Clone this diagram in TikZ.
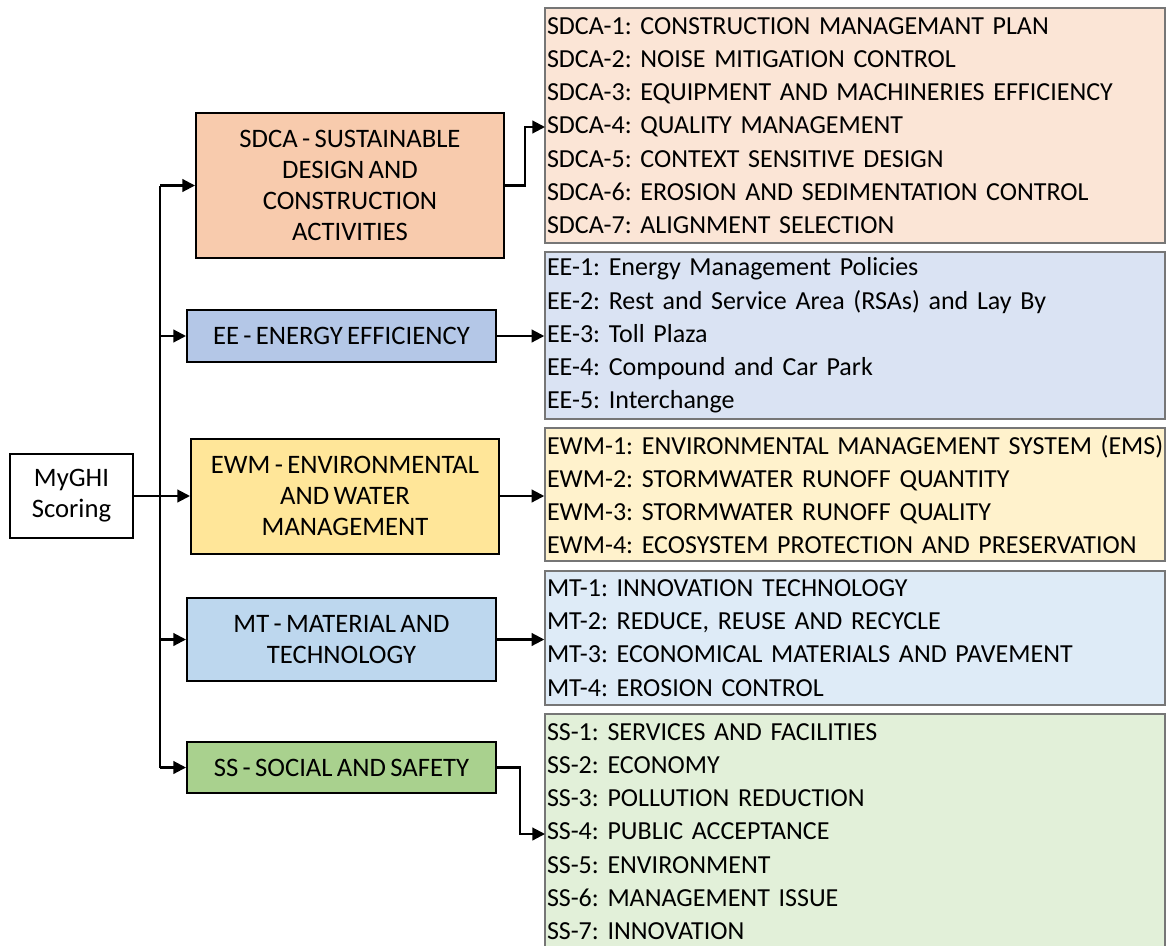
\documentclass[tikz,border=0pt]{standalone}
\usepackage{fontspec}
\setmainfont{Carlito}[WordSpace=0.72]
\usetikzlibrary{arrows.meta}
\frenchspacing
\definecolor{sdcaM}{HTML}{F8CBAD}
\definecolor{sdcaL}{HTML}{FBE5D6}
\definecolor{eeM}{HTML}{B4C7E7}
\definecolor{eeL}{HTML}{DAE3F3}
\definecolor{ewmM}{HTML}{FFE699}
\definecolor{ewmL}{HTML}{FFF2CC}
\definecolor{mtM}{HTML}{BDD7EE}
\definecolor{mtL}{HTML}{DEEBF7}
\definecolor{ssM}{HTML}{A9D18E}
\definecolor{ssL}{HTML}{E2F0D9}
\definecolor{listborder}{HTML}{767676}
\tikzset{
  mainbox/.style={draw=black, line width=1.5pt, align=center, inner sep=0pt,
    font=\fontsize{20}{23.25}\selectfont},
  listbox/.style={draw=listborder, line width=1.1pt, align=left, inner xsep=1.5pt, inner ysep=0pt,
    text width=462pt, minimum width=465pt,
    font=\fontsize{19.5}{24.9}\selectfont},
  conn/.style={line width=1.6pt, -{Triangle[length=9.5pt,width=9.5pt]}},
  plain/.style={line width=1.6pt}
}
\begin{document}
\begin{tikzpicture}[x=0.75pt,y=-0.75pt]
\useasboundingbox (0,0) rectangle (1171,946);
\clip (0,0) rectangle (1171,946);
% root
\node[mainbox, fill=white, minimum width=92.25pt, minimum height=63pt] (root) at (71.5,496) {MyGHI\\Scoring};
% categories
\node[mainbox, fill=sdcaM, minimum width=231pt, minimum height=108.75pt] (sdca) at (350,185.5)
  {SDCA - SUSTAINABLE\\DESIGN AND\\CONSTRUCTION\\ACTIVITIES};
\node[mainbox, fill=eeM, minimum width=231.75pt, minimum height=39pt] (ee) at (341.5,336)
  {EE - ENERGY EFFICIENCY};
\node[mainbox, fill=ewmM, minimum width=231pt, minimum height=86.25pt] (ewm) at (345,496)
  {EWM - ENVIRONMENTAL\\AND WATER\\MANAGEMENT};
\node[mainbox, fill=mtM, minimum width=231.75pt, minimum height=62.25pt] (mt) at (341.5,639.5)
  {MT - MATERIAL AND\\TECHNOLOGY};
\node[mainbox, fill=ssM, minimum width=231.75pt, minimum height=38.25pt] (ss) at (341.5,767.5)
  {SS - SOCIAL AND SAFETY};
% lists
\node[listbox, fill=sdcaL, minimum height=176.25pt] (sdcaL) at (855,125.5)
  {\mbox{SDCA-1: CONSTRUCTION MANAGEMANT PLAN}\\
   \mbox{SDCA-2: NOISE MITIGATION CONTROL}\\
   \mbox{SDCA-3: EQUIPMENT AND MACHINERIES EFFICIENCY}\\
   \mbox{SDCA-4: QUALITY MANAGEMENT}\\
   \mbox{SDCA-5: CONTEXT SENSITIVE DESIGN}\\
   \mbox{SDCA-6: EROSION AND SEDIMENTATION CONTROL}\\
   \mbox{SDCA-7: ALIGNMENT SELECTION}};
\node[listbox, fill=eeL, minimum height=125.25pt] (eeL) at (855,335.5)
  {\mbox{EE-1: Energy Management Policies}\\
   \mbox{EE-2: Rest and Service Area (RSAs) and Lay By}\\
   \mbox{EE-3: Toll Plaza}\\
   \mbox{EE-4: Compound and Car Park}\\
   \mbox{EE-5: Interchange}};
\node[listbox, fill=ewmL, minimum height=99.75pt] (ewmL) at (855,494.5)
  {\mbox{EWM-1: ENVIRONMENTAL MANAGEMENT SYSTEM (EMS)}\\
   \mbox{EWM-2: STORMWATER RUNOFF QUANTITY}\\
   \mbox{EWM-3: STORMWATER RUNOFF QUALITY}\\
   \mbox{EWM-4: ECOSYSTEM PROTECTION AND PRESERVATION}};
\node[listbox, fill=mtL, minimum height=100.5pt] (mtL) at (855,638)
  {\mbox{MT-1: INNOVATION TECHNOLOGY}\\
   \mbox{MT-2: REDUCE, REUSE AND RECYCLE}\\
   \mbox{MT-3: ECONOMICAL MATERIALS AND PAVEMENT}\\
   \mbox{MT-4: EROSION CONTROL}};
\node[listbox, fill=ssL, minimum height=176.25pt] (ssL) at (855,831.5)
  {\mbox{SS-1: SERVICES AND FACILITIES}\\
   \mbox{SS-2: ECONOMY}\\
   \mbox{SS-3: POLLUTION REDUCTION}\\
   \mbox{SS-4: PUBLIC ACCEPTANCE}\\
   \mbox{SS-5: ENVIRONMENT}\\
   \mbox{SS-6: MANAGEMENT ISSUE}\\
   \mbox{SS-7: INNOVATION}};
% trunk
\coordinate (ttop) at (160,185.5);
\coordinate (tbot) at (160,767.5);
\draw[plain] (ttop) -- (tbot);
\draw[conn] (root.east) -- (ewm.west);
\draw[conn] (ttop) -- (sdca.west);
\draw[conn] (ee.west -| ttop) -- (ee.west);
\draw[conn] (mt.west -| ttop) -- (mt.west);
\draw[conn] (tbot) -- (ss.west);
% to lists
\coordinate (sdcaIn) at (545,127);
\coordinate (ssIn) at (545,834);
\draw[conn] (sdca.east) -- (525,185.5) |- (sdcaIn);
\draw[conn] (ee.east) -- (ee.east -| eeL.west);
\draw[conn] (ewm.east) -- (ewm.east -| ewmL.west);
\draw[conn] (mt.east) -- (mt.east -| mtL.west);
\draw[conn] (ss.east) -- (520,767.5) |- (ssIn);
\end{tikzpicture}
\end{document}
